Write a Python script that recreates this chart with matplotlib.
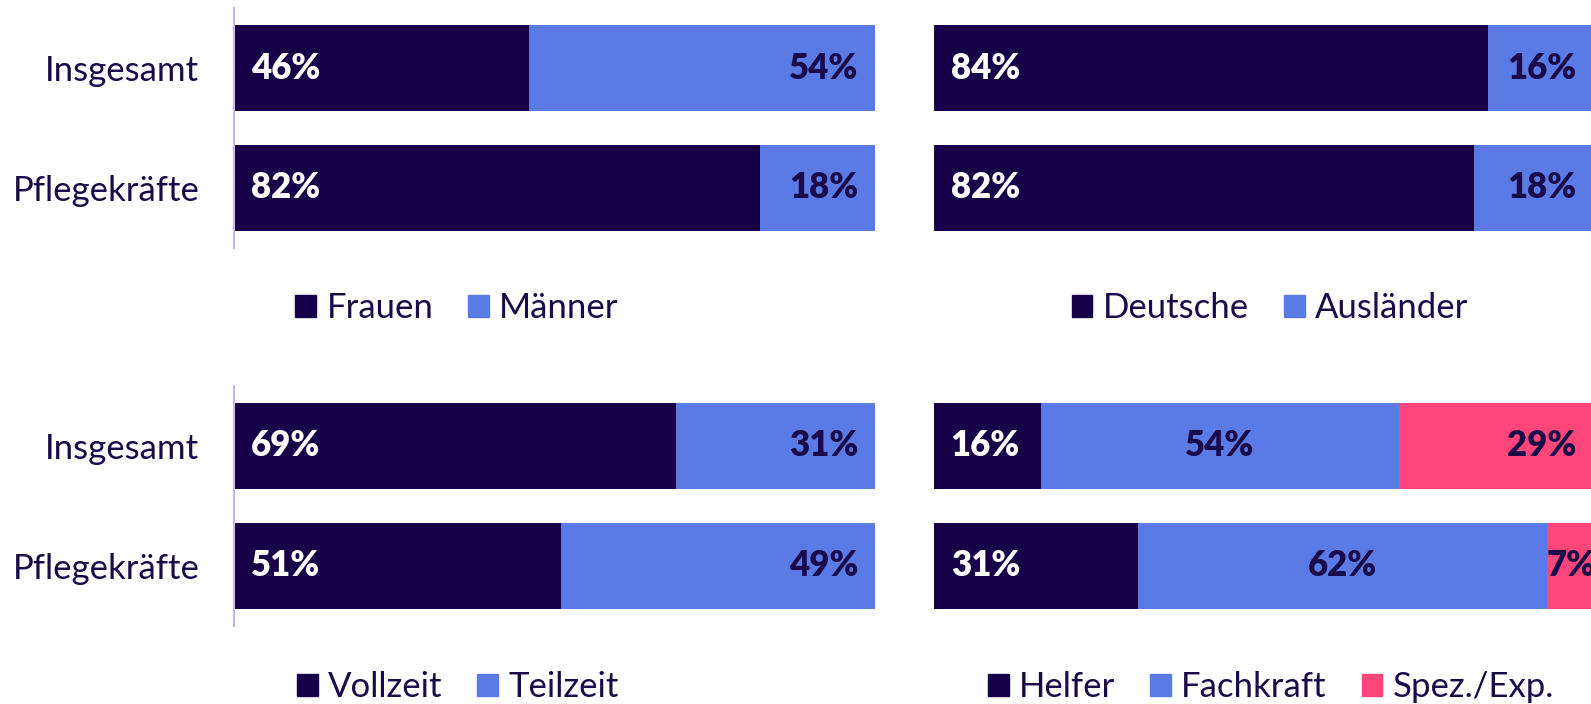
import matplotlib
matplotlib.use("Agg")
import matplotlib.pyplot as plt
from matplotlib.patches import Rectangle

plt.rcParams["font.family"] = ["Lato", "DejaVu Sans"]

# Daten (Anteile in %)
categories = ["Insgesamt", "Pflegekräfte"]

geschlecht_labels = ["Frauen", "Männer"]
frauen = [46, 82]
maenner = [54, 18]

herkunft_labels = ["Deutsche", "Ausländer"]
deutsche = [84, 82]
auslaender = [16, 18]

arbeitszeit_labels = ["Vollzeit", "Teilzeit"]
vollzeit = [69, 51]
teilzeit = [31, 49]

niveau_labels = ["Helfer", "Fachkraft", "Spez./Exp."]
helfer = [16.2, 31]
fachkraft = [54.4, 62]
spez = [29.4, 7]

DARK = "#180048"
BLUE = "#5a7be6"
PINK = "#ff4579"
TEXT = "#1b0a4a"
AXLINE = "#c6b6f2"
FS = 25
WEIGHT = "heavy"

W, H = 1591, 704


def rect(x0, y0, x1, y1):
    # Pixelkoordinaten (oben links) -> Figure-Anteile
    return [x0 / W, 1 - y1 / H, (x1 - x0) / W, (y1 - y0) / H]


def stacked(ax, series, colors, show_labels):
    y = range(len(categories))
    left = [0] * len(categories)
    n = len(series)
    for i, (vals, col) in enumerate(zip(series, colors)):
        ax.barh(y, vals, left=left, height=0.72, color=col, edgecolor="none")
        for row, (v, l) in enumerate(zip(vals, left)):
            txt = f"{v:.0f}%"
            if i == 0:
                ax.annotate(txt, (l, row), xytext=(12, 0), textcoords="offset points",
                            ha="left", va="center", color="white", fontsize=FS,
                            fontweight=WEIGHT)
            elif i == n - 1:
                if v < 10:
                    ax.annotate(txt, (l, row), xytext=(0, 0), textcoords="offset points",
                                ha="left", va="center", color=TEXT, fontsize=FS,
                                fontweight=WEIGHT)
                else:
                    ax.annotate(txt, (l + v, row), xytext=(-12, 0),
                                textcoords="offset points", ha="right", va="center",
                                color=TEXT, fontsize=FS, fontweight=WEIGHT)
            else:
                ax.text(l + v / 2, row, txt, ha="center", va="center", color=TEXT,
                        fontsize=FS, fontweight=WEIGHT)
        left = [a + b for a, b in zip(left, vals)]

    ax.set_xlim(0, 100)
    ax.set_ylim(len(categories) - 0.5, -0.5)
    ax.set_xticks([])
    for s in ["top", "right", "bottom"]:
        ax.spines[s].set_visible(False)
    if show_labels:
        ax.set_yticks(list(y))
        ax.set_yticklabels(categories, fontsize=FS, color=TEXT)
        ax.tick_params(axis="y", length=0, pad=25)
        ax.spines["left"].set_color(AXLINE)
        ax.spines["left"].set_linewidth(1.5)
    else:
        ax.set_yticks([])
        ax.spines["left"].set_visible(False)


def legend(fig, labels, colors, cx, cy):
    handles = [Rectangle((0, 0), 1, 1, color=c) for c in colors]
    fig.legend(handles, labels, loc="center", bbox_to_anchor=(cx / W, 1 - cy / H),
               ncol=len(labels), frameon=False, fontsize=FS, labelcolor=TEXT,
               handlelength=0.6, handleheight=0.6, handletextpad=0.3,
               columnspacing=1.0, borderaxespad=0, borderpad=0)


fig = plt.figure(figsize=(W / 100, H / 100), dpi=100)

ax1 = fig.add_axes(rect(234, 8, 875, 248))
stacked(ax1, [frauen, maenner], [DARK, BLUE], True)
legend(fig, geschlecht_labels, [DARK, BLUE], 457, 308)

ax2 = fig.add_axes(rect(934, 8, 1593, 248))
stacked(ax2, [deutsche, auslaender], [DARK, BLUE], False)
legend(fig, herkunft_labels, [DARK, BLUE], 1270, 308)

ax3 = fig.add_axes(rect(234, 386, 875, 626))
stacked(ax3, [vollzeit, teilzeit], [DARK, BLUE], True)
legend(fig, arbeitszeit_labels, [DARK, BLUE], 458, 687)

ax4 = fig.add_axes(rect(934, 386, 1593, 626))
stacked(ax4, [helfer, fachkraft, spez], [DARK, BLUE, PINK], False)
legend(fig, niveau_labels, [DARK, BLUE, PINK], 1271, 687)

fig.savefig("out.png", dpi=100)
